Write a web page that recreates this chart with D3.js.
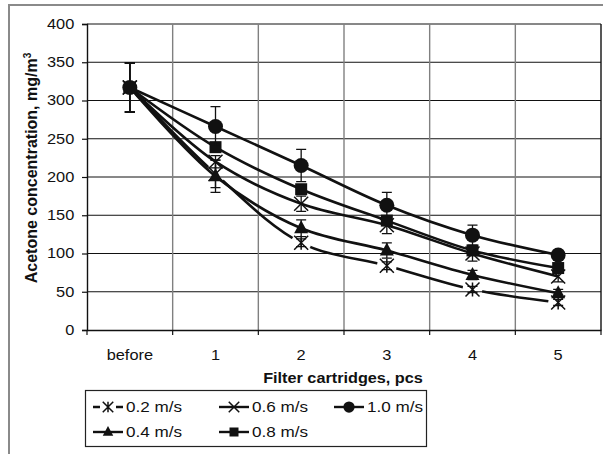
<!DOCTYPE html>
<html>
<head>
<meta charset="utf-8">
<script src="https://cdn.jsdelivr.net/npm/d3@7"></script>
<style>
  body { margin: 0; background: #fff; }
  svg { display: block; font-family: "Liberation Sans", Arial, sans-serif; }
</style>
</head>
<body>
<div id="chart"></div>
<script>
const categories = ["before", "1", "2", "3", "4", "5"];
const speeds = ["0.2 m/s", "0.4 m/s", "0.6 m/s", "0.8 m/s", "1.0 m/s"];

const v02 = [317, 204, 114, 84, 53, 36];
const v04 = [317, 201, 133, 104, 72, 48];
const v06 = [317, 220, 165, 137, 100, 70];
const v08 = [317, 239, 184, 143, 104, 81];
const v10 = [317, 266, 215, 163, 124, 98];

const e02 = [32, 18, 5, 5, 4, 4];
const e04 = [32, 21, 11, 10, 6, 5];
const e06 = [32, 8, 10, 11, 10, 7];
const e08 = [32, 6, 6, 6, 6, 5];
const e10 = [32, 26, 21, 17, 13, 6];

const yTicks = [0, 50, 100, 150, 200, 250, 300, 350, 400];

const series = [
  { name: speeds[0], values: v02, errors: e02, marker: "star", gap: true },
  { name: speeds[1], values: v04, errors: e04, marker: "triangle" },
  { name: speeds[2], values: v06, errors: e06, marker: "x" },
  { name: speeds[3], values: v08, errors: e08, marker: "square" },
  { name: speeds[4], values: v10, errors: e10, marker: "circle" }
];

const width = 603, height = 454;
const stretch = 1.17;

const svg = d3.select("#chart").append("svg")
  .attr("width", width)
  .attr("height", height);

// outer frame
svg.append("rect")
  .attr("x", 9).attr("y", 5)
  .attr("width", 700).attr("height", 600)
  .attr("fill", "none")
  .attr("stroke", "#8a8a8a")
  .attr("stroke-width", 2);

const x = d3.scaleBand().domain(categories).range([87, 601]);
const y = d3.scaleLinear().domain([0, 400]).range([330, 24]);
const cx = c => x(c) + x.bandwidth() / 2;

const bounds = categories.map(c => x(c)).concat([x.range()[1]]);

// horizontal grid
svg.append("g")
  .selectAll("line")
  .data(yTicks.filter(t => t > 0))
  .join("line")
  .attr("x1", x.range()[0]).attr("x2", x.range()[1])
  .attr("y1", d => y(d)).attr("y2", d => y(d))
  .attr("stroke", "#111")
  .attr("stroke-width", 1);

// vertical grid
svg.append("g")
  .selectAll("line")
  .data(bounds.slice(1))
  .join("line")
  .attr("x1", d => d).attr("x2", d => d)
  .attr("y1", y(400)).attr("y2", y(0))
  .attr("stroke", (d, i) => i === bounds.length - 2 ? "#111" : "#808080")
  .attr("stroke-width", 1.4);

// y axis
const yAxis = svg.append("g")
  .attr("transform", `translate(${x.range()[0]},0)`)
  .call(d3.axisLeft(y).tickValues(yTicks).tickSize(5));
yAxis.select(".domain").attr("stroke", "#111").attr("stroke-width", 1.4);
yAxis.selectAll(".tick line").attr("stroke", "#111").attr("stroke-width", 1.2);
yAxis.selectAll("text")
  .attr("x", 0)
  .attr("transform", `translate(-12.7,0) scale(${stretch},1)`)
  .attr("font-size", 14)
  .attr("fill", "#111");

// x axis
const xAxis = svg.append("g")
  .attr("transform", `translate(0,${y(0)})`)
  .call(d3.axisBottom(x).tickSize(0));
xAxis.select(".domain").attr("stroke", "#111").attr("stroke-width", 1.4);
xAxis.selectAll("text")
  .attr("y", 0).attr("dy", 0)
  .attr("transform", `translate(0,30) scale(${stretch},1)`)
  .attr("font-size", 14)
  .attr("fill", "#111");

svg.append("g")
  .selectAll("line")
  .data(bounds)
  .join("line")
  .attr("x1", d => d).attr("x2", d => d)
  .attr("y1", y(0)).attr("y2", y(0) + 5)
  .attr("stroke", "#111")
  .attr("stroke-width", 1.2);

// axis titles
svg.append("text")
  .attr("transform", `translate(343,383) scale(1.16,1)`)
  .attr("text-anchor", "middle")
  .attr("font-size", 14)
  .attr("font-weight", "bold")
  .attr("fill", "#111")
  .text("Filter cartridges, pcs");

const yTitle = svg.append("text")
  .attr("transform", "translate(37,168) rotate(-90)")
  .attr("text-anchor", "middle")
  .attr("font-size", 16)
  .attr("font-weight", "bold")
  .attr("fill", "#111");
yTitle.append("tspan").text("Acetone concentration, mg/m");
yTitle.append("tspan").attr("font-size", 10).attr("dy", -6).text("3");

// markers
function drawMarker(g, type, px, py, s) {
  s = s || 1;
  if (type === "circle") {
    g.append("circle").attr("cx", px).attr("cy", py).attr("r", 7.5 * s).attr("fill", "#111");
  } else if (type === "square") {
    const h = 6 * s;
    g.append("rect").attr("x", px - h).attr("y", py - h).attr("width", 2 * h).attr("height", 2 * h).attr("fill", "#111");
  } else if (type === "triangle") {
    g.append("path")
      .attr("d", `M${px},${py - 8 * s}L${px + 7 * s},${py + 5 * s}L${px - 7 * s},${py + 5 * s}Z`)
      .attr("fill", "#111");
  } else if (type === "x" || type === "star") {
    const h = 7 * s;
    let d = `M${px - h},${py - h}L${px + h},${py + h}M${px - h},${py + h}L${px + h},${py - h}`;
    if (type === "star") d += `M${px},${py - h}L${px},${py + h}`;
    g.append("path").attr("d", d).attr("stroke", "#111").attr("stroke-width", 1.5).attr("fill", "none");
  }
}

const line = d3.line()
  .x((d, i) => cx(categories[i]))
  .y(d => y(d))
  .curve(d3.curveCatmullRom.alpha(0.5));

// mask that opens gaps round the 0.2 m/s markers
const defs = svg.append("defs");
const mask = defs.append("mask").attr("id", "gapmask").attr("maskUnits", "userSpaceOnUse")
  .attr("x", 0).attr("y", 0).attr("width", width).attr("height", height);
mask.append("rect").attr("width", width).attr("height", height).attr("fill", "#fff");
mask.selectAll("circle")
  .data(v02)
  .join("circle")
  .attr("cx", (d, i) => cx(categories[i]))
  .attr("cy", d => y(d))
  .attr("r", 10)
  .attr("fill", "#000");

const lines = svg.append("g");
series.forEach(s => {
  const p = lines.append("path")
    .attr("d", line(s.values))
    .attr("fill", "none")
    .attr("stroke", "#111")
    .attr("stroke-width", 2.6);
  if (s.gap) p.attr("mask", "url(#gapmask)");
});

const marks = svg.append("g");
series.forEach(s => {
  s.values.forEach((v, i) => {
    const px = cx(categories[i]);
    const e = s.errors[i];
    if (e > 0) {
      const y1 = y(v - e), y2 = y(v + e);
      marks.append("path")
        .attr("d", `M${px},${y1}V${y2}M${px - 5},${y1}H${px + 5}M${px - 5},${y2}H${px + 5}`)
        .attr("stroke", "#111")
        .attr("stroke-width", 1.3)
        .attr("fill", "none");
    }
    drawMarker(marks, s.marker, px, y(v));
  });
});

// legend
const legend = svg.append("g");
legend.append("rect")
  .attr("x", 85.5).attr("y", 390.5)
  .attr("width", 341).attr("height", 56)
  .attr("fill", "#fff")
  .attr("stroke", "#222")
  .attr("stroke-width", 1.2);

const colX = [126, 252, 367];
const rowY = [407, 432];
series.forEach((s, i) => {
  const tx = colX[Math.floor(i / 2)];
  const ly = rowY[i % 2];
  if (s.gap) {
    legend.append("path")
      .attr("d", `M${tx - 33},${ly}H${tx - 26}M${tx - 10},${ly}H${tx - 3}`)
      .attr("stroke", "#111").attr("stroke-width", 2.4);
  } else {
    legend.append("line")
      .attr("x1", tx - 33).attr("x2", tx - 3)
      .attr("y1", ly).attr("y2", ly)
      .attr("stroke", "#111").attr("stroke-width", 2.4);
  }
  drawMarker(legend, s.marker, tx - 18, ly, 0.75);
  legend.append("text")
    .attr("transform", `translate(${tx},${ly + 5}) scale(1.18,1)`)
    .attr("font-size", 14.5)
    .attr("fill", "#111")
    .text(s.name);
});
</script>
</body>
</html>
